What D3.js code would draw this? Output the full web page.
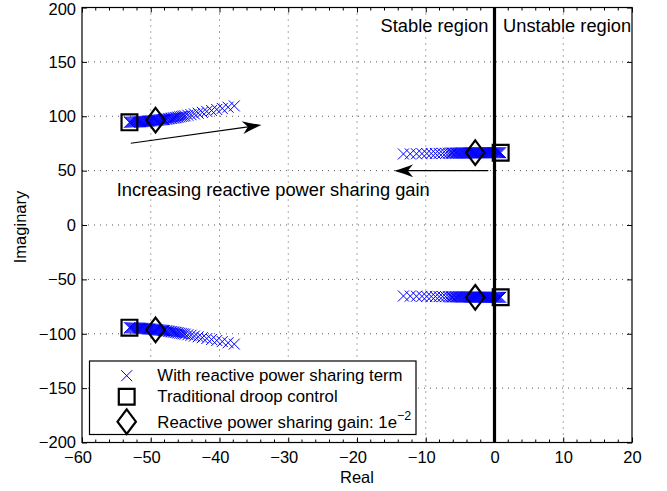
<!DOCTYPE html>
<html><head><meta charset="utf-8">
<script src="https://cdn.jsdelivr.net/npm/d3@7"></script>
<style>
body{margin:0;background:#fff;}
text{font-family:"Liberation Sans",Arial,Helvetica,sans-serif;fill:#000;}
</style></head>
<body><svg id="c" width="667" height="491"></svg>
<script>
// ---- data ----
const xTicks = [-60,-50,-40,-30,-20,-10,0,10,20];
const yTicks = [-200,-150,-100,-50,0,50,100,150,200];

// upper-left branch (real, imag) with reactive power sharing term
const ulReal = [-53.1,-52.95,-52.8,-52.65,-52.5,-52.35,-52.2,-52.05,-51.9,-51.75,-51.6,-51.45,-51.3,-51.15,-51.0,-50.85,-50.7,-50.55,-50.4,-50.25,-50.1,-49.95,-49.8,-49.65,-49.5,-49.35,-49.2,-49.05,-48.9,-48.75,-48.6,-48.45,-48.3,-48.15,-48.0,-47.8,-47.6,-47.4,-47.2,-47.0,-46.8,-46.6,-46.4,-46.2,-46.0,-45.75,-45.5,-45.25,-45.0,-44.6,-44.15,-43.65,-43.1,-42.5,-41.85,-41.15,-40.4,-39.6,-38.75,-37.85];
const ulImag = [94.4,94.45,94.5,94.55,94.6,94.65,94.7,94.75,94.8,94.85,94.9,95.0,95.05,95.1,95.2,95.25,95.3,95.4,95.5,95.6,95.7,95.8,95.9,96.0,96.1,96.2,96.3,96.4,96.5,96.6,96.7,96.8,96.9,97.0,97.1,97.3,97.5,97.7,97.9,98.1,98.3,98.5,98.7,98.95,99.2,99.5,99.8,100.1,100.4,100.9,101.45,102.1,102.8,103.6,104.4,105.3,106.2,107.2,108.3,109.5];
// upper-right branch
const urReal = [0.9,0.75,0.6,0.45,0.3,0.15,0,-0.15,-0.3,-0.45,-0.6,-0.75,-0.9,-1.05,-1.2,-1.35,-1.5,-1.65,-1.8,-1.95,-2.1,-2.25,-2.4,-2.55,-2.7,-2.85,-3.0,-3.15,-3.3,-3.45,-3.6,-3.75,-3.9,-4.05,-4.2,-4.35,-4.5,-4.65,-4.8,-4.95,-5.1,-5.25,-5.4,-5.6,-5.8,-6.0,-6.2,-6.4,-6.7,-7.1,-7.55,-8.05,-8.6,-9.2,-9.85,-10.55,-11.35,-12.25,-13.25];
const urImag = [66.5,66.5,66.5,66.5,66.5,66.5,66.5,66.5,66.45,66.45,66.45,66.45,66.45,66.45,66.45,66.45,66.4,66.4,66.4,66.4,66.4,66.4,66.4,66.4,66.3,66.3,66.3,66.3,66.3,66.3,66.3,66.3,66.2,66.2,66.2,66.2,66.2,66.2,66.2,66.2,66.1,66.1,66.1,66.1,66.1,66.1,66.1,66.1,66.0,65.95,65.9,65.85,65.8,65.75,65.7,65.6,65.5,65.4,65.3];
// traditional droop control poles
const droopReal = [-53.1,-53.1,0.9,0.9];
const droopImag = [94.4,-94.4,66.5,-66.5];
// reactive power sharing gain 1e-2 poles
const gainReal = [-49.3,-49.3,-2.8,-2.8];
const gainImag = [96.4,-96.4,66.5,-66.5];

const legendLabels = ["With reactive power sharing term","Traditional droop control","Reactive power sharing gain: 1e"];

// ---- drawing ----
const svg = d3.select("#c");
const x = d3.scaleLinear().domain([-60,20]).range([82,632]);
const y = d3.scaleLinear().domain([-200,200]).range([442.5,7.5]);
const FS = 16.5;

svg.append("rect").attr("width",667).attr("height",491).attr("fill","#fff");

// grid
const g = svg.append("g");
g.selectAll(".gx").data(xTicks.slice(1,-1)).join("line")
  .attr("x1",d=>x(d)).attr("x2",d=>x(d)).attr("y1",y(200)).attr("y2",y(-200))
  .attr("stroke","#444").attr("stroke-width",0.9).attr("stroke-dasharray","1,5");
g.selectAll(".gy").data(yTicks.slice(1,-1)).join("line")
  .attr("y1",d=>y(d)).attr("y2",d=>y(d)).attr("x1",x(-60)).attr("x2",x(20))
  .attr("stroke","#444").attr("stroke-width",0.9).attr("stroke-dasharray","1,5");

// markers: crosses
const pts = [];
ulReal.forEach((r,i)=>{pts.push([r,ulImag[i]]);pts.push([r,-ulImag[i]]);});
urReal.forEach((r,i)=>{pts.push([r,urImag[i]]);pts.push([r,-urImag[i]]);});
const cs = 5.5;
const crossPath = `M${-cs},${-cs}L${cs},${cs}M${-cs},${cs}L${cs},${-cs}`;
svg.append("g").selectAll("path").data(pts).join("path")
  .attr("transform",d=>`translate(${x(d[0])},${y(d[1])})`)
  .attr("d",crossPath).attr("stroke","#0000ff").attr("stroke-width",1).attr("fill","none");

// zero line
svg.append("line").attr("x1",x(0)).attr("x2",x(0)).attr("y1",y(200)).attr("y2",y(-200))
  .attr("stroke","#000").attr("stroke-width",3.2);

const sq = 7.9;
const sqPath = `M${-sq},${-sq}H${sq}V${sq}H${-sq}Z`;
const dw = 9.2, dh = 12.3;
const dPath = `M0,${-dh}L${dw},0L0,${dh}L${-dw},0Z`;
svg.append("g").selectAll("path").data(droopReal.map((r,i)=>[r,droopImag[i]])).join("path")
  .attr("transform",d=>`translate(${x(d[0])},${y(d[1])})`)
  .attr("d",sqPath).attr("stroke","#000").attr("stroke-width",2.2).attr("fill","none");
svg.append("g").selectAll("path").data(gainReal.map((r,i)=>[r,gainImag[i]])).join("path")
  .attr("transform",d=>`translate(${x(d[0])},${y(d[1])})`)
  .attr("d",dPath).attr("stroke","#000").attr("stroke-width",2.2).attr("fill","none");

// arrows
function arrow(x1,y1,x2,y2){
  const X1=x(x1),Y1=y(y1),X2=x(x2),Y2=y(y2);
  const a = Math.atan2(Y2-Y1,X2-X1);
  const L=19, w=6.5;
  svg.append("line").attr("x1",X1).attr("y1",Y1).attr("x2",X2-Math.cos(a)*10).attr("y2",Y2-Math.sin(a)*10)
    .attr("stroke","#000").attr("stroke-width",1.1);
  svg.append("path").attr("transform",`translate(${X2},${Y2}) rotate(${a*180/Math.PI})`)
    .attr("d",`M0,0 Q${-L*0.6},${-w*0.5} ${-L},${-w} L${-L*0.72},0 L${-L},${w} Q${-L*0.6},${w*0.5} 0,0Z`)
    .attr("fill","#000");
}
arrow(-52.9,75.1,-33.9,92.0);
arrow(-0.9,50,-14.6,50);

// annotations
const AF = 18.3;
svg.append("text").attr("x",x(-0.9)).attr("y",31.7).attr("text-anchor","end").attr("font-size",AF).text("Stable region");
svg.append("text").attr("x",x(1.25)).attr("y",31.7).attr("font-size",AF).text("Unstable region");
svg.append("text").attr("x",x(-54.95)).attr("y",196).attr("font-size",AF).text("Increasing reactive power sharing gain");

// axes
const fmt = d=> d<0 ? "\u2212"+Math.abs(d) : String(d);
const ax = svg.append("g").attr("transform",`translate(0,${y(-200)})`)
  .call(d3.axisBottom(x).tickValues(xTicks).tickFormat(fmt).tickSizeInner(-5).tickSizeOuter(0).tickPadding(9));
ax.selectAll("text").attr("font-size",FS).attr("font-family","Liberation Sans, Arial, sans-serif")
  .attr("dx",d=>d<0?"-0.27em":0);
const ay = svg.append("g").attr("transform",`translate(${x(-60)},0)`)
  .call(d3.axisLeft(y).tickValues(yTicks).tickFormat(fmt).tickSizeInner(-5).tickSizeOuter(0).tickPadding(6));
ay.selectAll("text").attr("font-size",FS).attr("font-family","Liberation Sans, Arial, sans-serif")
  .attr("y",d=>d===200?2:0);
svg.append("g").attr("transform",`translate(0,${y(200)})`)
  .call(d3.axisTop(x).tickValues(xTicks).tickFormat("").tickSizeInner(-5).tickSizeOuter(0));
svg.append("g").attr("transform",`translate(${x(20)},0)`)
  .call(d3.axisRight(y).tickValues(yTicks).tickFormat("").tickSizeInner(-5).tickSizeOuter(0));
svg.selectAll(".domain").remove();
svg.selectAll(".tick line").attr("stroke","#000");

// minor x ticks
const minorX = d3.range(-60,20.01,2).filter(v=>!xTicks.includes(v));
svg.append("g").selectAll("line").data(minorX).join("line")
  .attr("x1",d=>x(d)).attr("x2",d=>x(d)).attr("y1",y(-200)).attr("y2",y(-200)-3).attr("stroke","#000");
svg.append("g").selectAll("line").data(minorX).join("line")
  .attr("x1",d=>x(d)).attr("x2",d=>x(d)).attr("y1",y(200)).attr("y2",y(200)+3).attr("stroke","#000");

// box
svg.append("rect").attr("x",x(-60)).attr("y",y(200)).attr("width",x(20)-x(-60)).attr("height",y(-200)-y(200))
  .attr("fill","none").attr("stroke","#000").attr("stroke-width",1.2);

// axis labels
svg.append("text").attr("x",(x(-60)+x(20))/2).attr("y",483.3).attr("text-anchor","middle").attr("font-size",FS).text("Real");
svg.append("text").attr("transform",`translate(26,${(y(200)+y(-200))/2+2}) rotate(-90)`).attr("text-anchor","middle").attr("font-size",FS).text("Imaginary");

// legend
const LF = 16.8;
const lg = svg.append("g");
lg.append("rect").attr("x",89.5).attr("y",361).attr("width",326.5).attr("height",73.5).attr("fill","#fff").attr("stroke","#000").attr("stroke-width",1.2);
const mx = 126.7, tx = 157.3;
lg.append("path").attr("transform",`translate(${mx},375.7)`).attr("d",crossPath).attr("stroke","#0000ff").attr("stroke-width",1).attr("fill","none");
lg.append("path").attr("transform",`translate(${mx},396.7)`).attr("d",sqPath).attr("stroke","#000").attr("stroke-width",2.2).attr("fill","none");
lg.append("path").attr("transform",`translate(${mx},421.7)`).attr("d",dPath).attr("stroke","#000").attr("stroke-width",2.2).attr("fill","none");
lg.append("text").attr("x",tx).attr("y",381).attr("font-size",LF).text(legendLabels[0]);
lg.append("text").attr("x",tx).attr("y",401.7).attr("font-size",LF).text(legendLabels[1]);
const t3 = lg.append("text").attr("x",tx).attr("y",427.7).attr("font-size",LF).text(legendLabels[2]);
t3.append("tspan").attr("dy",-7.5).attr("font-size",12.5).text("\u22122");
</script></body></html>
